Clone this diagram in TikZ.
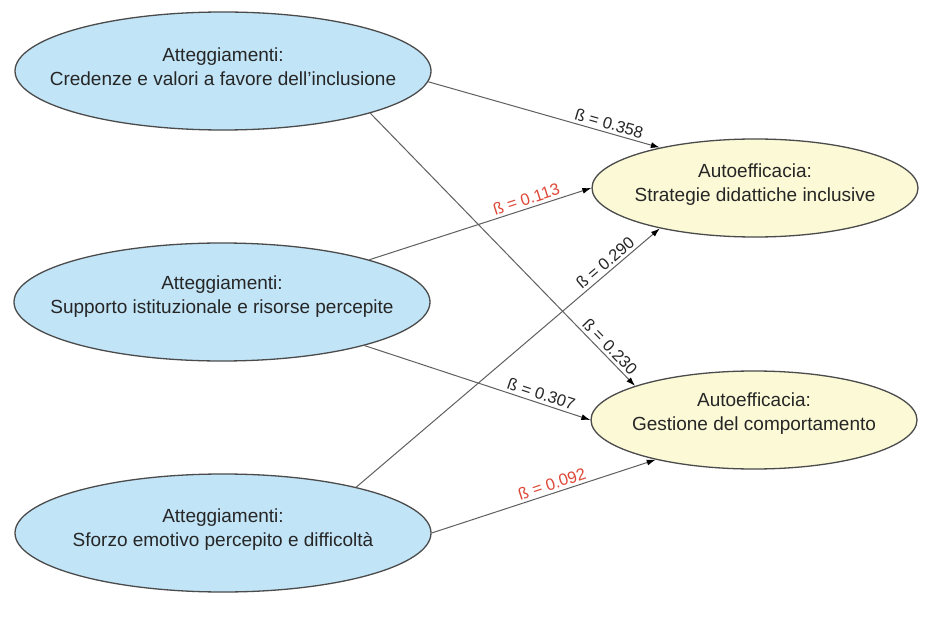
\documentclass[tikz,border=0pt]{standalone}
\usepackage{fontspec}
\setmainfont{Liberation Sans}
\usetikzlibrary{shapes.geometric,arrows.meta}
\definecolor{attfill}{RGB}{193,228,247}
\definecolor{selffill}{RGB}{251,249,214}
\definecolor{rimgray}{RGB}{75,75,75}
\definecolor{linkgray}{RGB}{95,95,95}
\definecolor{betared}{RGB}{222,72,56}
\begin{document}
\begin{tikzpicture}[x=1pt,y=-1pt,
  attitude/.style={ellipse, draw=rimgray, line width=1.3pt, fill=attfill,
    minimum width=416pt, minimum height=118pt, inner sep=0pt},
  efficacy/.style={ellipse, draw=rimgray, line width=1.3pt, fill=selffill,
    minimum width=326pt, minimum height=98pt, inner sep=0pt},
  caption/.style={align=center, font=\fontsize{19}{24}\selectfont, text=black!85},
  link/.style={draw=linkgray, line width=1pt,
    -{Latex[length=9pt,width=6pt,color=black]}},
  coef/.style={sloped, above, inner sep=3pt,
    font=\fontsize{16.5}{18}\selectfont, text=black!85},
  coefweak/.style={coef, text=betared}]
\fill[white] (0,0) rectangle (942,620);
\useasboundingbox (0,0) rectangle (942,620);

% latent attitude factors (left column)
\node[attitude] (att1) at (223,71) {};
\node[caption] (att1txt) at (223,67) {Atteggiamenti:\\Credenze e valori a favore dell’inclusione};
\node[attitude] (att2) at (222,302) {};
\node[caption] (att2txt) at (222,297) {Atteggiamenti:\\Supporto istituzionale e risorse percepite};
\node[attitude] (att3) at (223,533) {};
\node[caption] (att3txt) at (223,530) {Atteggiamenti:\\Sforzo emotivo percepito e difficoltà};

% self-efficacy outcomes (right column)
\node[efficacy] (selfA) at (755,188) {};
\node[caption] (selfAtxt) at (755,185) {Autoefficacia:\\Strategie didattiche inclusive};
\node[efficacy] (selfB) at (754,420) {};
\node[caption] (selfBtxt) at (754,414) {Autoefficacia:\\Gestione del comportamento};

% structural paths with standardised coefficients
\draw[link] (att1.-3.4) -- node[coef, pos=0.77] {ß = 0.358} (selfA.157.7);
\draw[link] (att1.-16.2) -- node[coef, pos=0.88] {ß = 0.230} (selfB.164.1);
\draw[link] (att2.16.4) -- node[coefweak, pos=0.72] {ß = 0.113} (selfA.180);
\draw[link] (att2.-17.7) -- node[coef, pos=0.77] {ß = 0.307} (selfB.180);
\draw[link] (att3.19.7) -- node[coef, pos=0.84] {ß = 0.290} (selfA.203.1);
\draw[link] (att3.0) -- node[coefweak, pos=0.55] {ß = 0.092} (selfB.202.6);
\end{tikzpicture}
\end{document}
